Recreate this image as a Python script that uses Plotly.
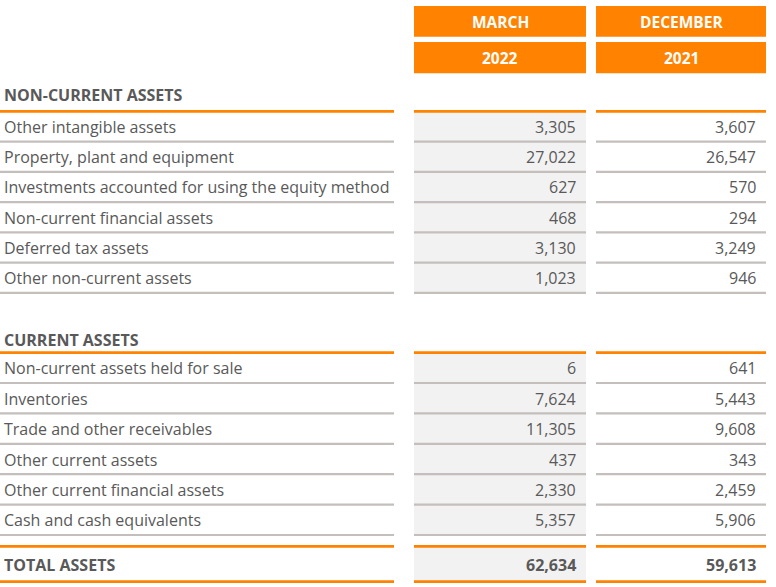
import plotly.graph_objects as go

# ---- data ----
col_months = ["MARCH", "DECEMBER"]
col_years = ["2022", "2021"]

noncurrent_title = "NON-CURRENT ASSETS"
noncurrent_labels = [
    "Other intangible assets",
    "Property, plant and equipment",
    "Investments accounted for using the equity method",
    "Non-current financial assets",
    "Deferred tax assets",
    "Other non-current assets",
]
noncurrent_mar22 = [3305, 27022, 627, 468, 3130, 1023]
noncurrent_dec21 = [3607, 26547, 570, 294, 3249, 946]

current_title = "CURRENT ASSETS"
current_labels = [
    "Non-current assets held for sale",
    "Inventories",
    "Trade and other receivables",
    "Other current assets",
    "Other current financial assets",
    "Cash and cash equivalents",
]
current_mar22 = [6, 7624, 11305, 437, 2330, 5357]
current_dec21 = [641, 5443, 9608, 343, 2459, 5906]

total_label = "TOTAL ASSETS"
total_mar22 = 62634
total_dec21 = 59613

# ---- styling / layout ----
W, H = 776, 587
ORANGE = "#FF8200"
GREY_LINE = "#C4BFBC"
FILL = "#F2F2F2"
TXT = "#595959"
FONT = "Open Sans"
FS = 16

LAB_X0, LAB_X1 = 0, 394
C1_X0, C1_X1 = 414, 586
C2_X0, C2_X1 = 596, 766
cols = [(C1_X0, C1_X1), (C2_X0, C2_X1)]
col_fill = [FILL, None]

shapes = []
ann = []


def rect(x0, x1, y0, y1, color):
    shapes.append(dict(type="rect", xref="x", yref="y", x0=x0, x1=x1, y0=y0, y1=y1,
                       fillcolor=color, line=dict(width=0), layer="above"))


def hline(y, color, thick):
    for (a, b) in [(LAB_X0, LAB_X1)] + cols:
        rect(a, b, y - thick / 2, y + thick / 2, color)


def text(x, y, s, anchor="left", bold=False, color=TXT, size=FS):
    ann.append(dict(x=x, y=y, xref="x", yref="y", text=f"<b>{s}</b>" if bold else s,
                    showarrow=False, xanchor=anchor, yanchor="middle",
                    font=dict(family=FONT, size=size, color=color)))


def fmt(v):
    return f"{v:,}"


# header boxes
for i, (a, b) in enumerate(cols):
    rect(a, b, 6, 36.7, ORANGE)
    rect(a, b, 42, 73.3, ORANGE)
    text((a + b) / 2, 21.5, col_months[i], anchor="center", bold=True, color="white", size=15.5)
    text((a + b) / 2, 57.8, col_years[i], anchor="center", bold=True, color="white", size=15.5)


def section(title, title_y, top, step, labels, v1, v2):
    n = len(labels)
    bottom = top + step * n
    for ci, (a, b) in enumerate(cols):
        if col_fill[ci]:
            rect(a, b, top, bottom, col_fill[ci])
    text(2, title_y, title, bold=True, size=16)
    hline(top, ORANGE, 2.8)
    for i in range(n):
        y0 = top + step * i
        y1 = y0 + step
        hline(y1, GREY_LINE, 2.2)
        yc = (y0 + y1) / 2 + 0.5
        text(2, yc, labels[i])
        text(C1_X1 - 8, yc, fmt(v1[i]), anchor="right")
        text(C2_X1 - 8, yc, fmt(v2[i]), anchor="right")


section(noncurrent_title, 95, 111.3, 30.25, noncurrent_labels, noncurrent_mar22, noncurrent_dec21)
section(current_title, 339.5, 352.6, 30.4, current_labels, current_mar22, current_dec21)

# total row
t0, t1 = 546.4, 581.7
rect(C1_X0, C1_X1, t0, t1, FILL)
hline(t0, ORANGE, 2.8)
hline(t1, ORANGE, 2.8)
tyc = (t0 + t1) / 2 + 0.5
text(2, tyc, total_label, bold=True, size=16)
text(C1_X1 - 8, tyc, fmt(total_mar22), anchor="right", bold=True)
text(C2_X1 - 8, tyc, fmt(total_dec21), anchor="right", bold=True)

fig = go.Figure()
fig.update_layout(
    width=W, height=H,
    margin=dict(l=0, r=0, t=0, b=0),
    paper_bgcolor="white", plot_bgcolor="white",
    xaxis=dict(range=[0, W], visible=False, fixedrange=True),
    yaxis=dict(range=[H, 0], visible=False, fixedrange=True),
    shapes=shapes, annotations=ann, showlegend=False,
)
fig.write_html("out.html", config={"displayModeBar": False},
               post_script="document.body.style.margin='0';document.body.style.overflow='hidden';")
